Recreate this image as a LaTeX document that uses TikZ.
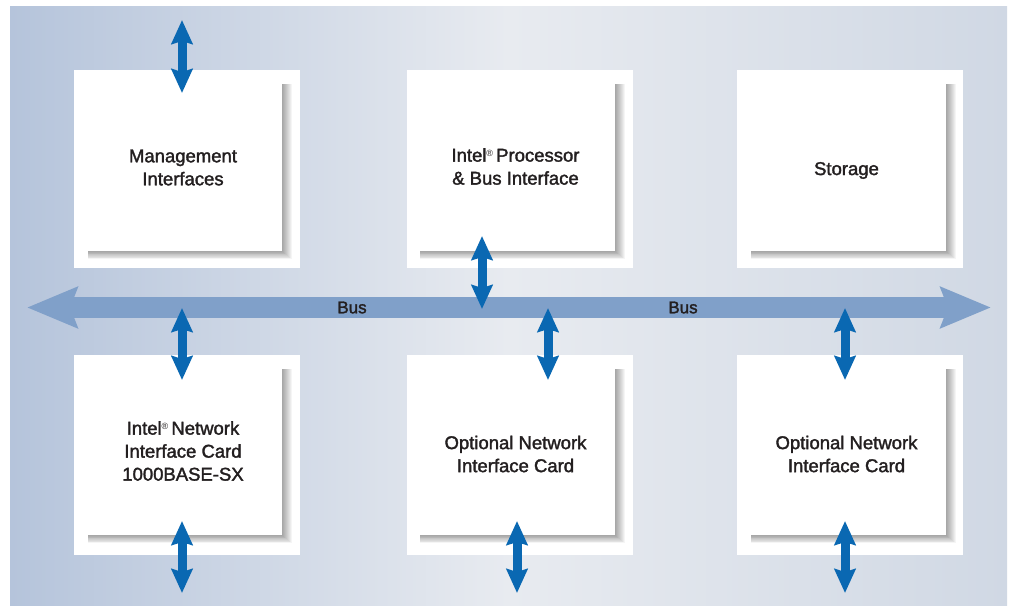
\documentclass[tikz,border=0pt]{standalone}
\usepackage{fontspec}
\setmainfont{Liberation Sans}
\newfontfamily\medfont{Liberation Sans}[FakeBold=1.8]
\usepackage{tikz}
\usetikzlibrary{arrows.meta}

\definecolor{linkblue}{RGB}{10,104,178}
\definecolor{busblue}{RGB}{128,160,201}
\definecolor{bgleft}{RGB}{181,196,219}
\definecolor{bgmid}{RGB}{232,235,240}
\definecolor{bgright}{RGB}{208,216,228}
\definecolor{txt}{RGB}{35,31,32}

\newcommand{\regmark}{\raisebox{5.5pt}{\rmfamily\fontsize{9}{9}\selectfont ®}}

\pgfdeclarelayer{back}
\pgfdeclarelayer{shade}
\pgfsetlayers{back,shade,main}

\begin{document}
\begin{tikzpicture}[x=1pt, y=-1pt,
    every node/.style={font=\medfont\fontsize{18.5}{23}\selectfont, text=txt},
    frame/.style={fill=white, minimum width=226pt, minimum height=198pt, inner sep=0pt},
    card/.style={fill=white, minimum width=198pt, minimum height=171pt, inner sep=0pt},
    label/.style={align=center},
    link/.style={line width=9pt, linkblue, {Stealth[width=21pt,length=24pt,inset=3pt]}-{Stealth[width=21pt,length=24pt,inset=3pt]}},
    bus/.style={line width=21pt, busblue, {Stealth[width=40pt,length=50pt,inset=7pt]}-{Stealth[width=40pt,length=50pt,inset=7pt]}}]
    % Background
    \begin{pgfonlayer}{back}
    \useasboundingbox (0,0) rectangle (1009,605);
    \fill[white] (0,0) rectangle (1009,605);
    \shade[left color=bgleft, right color=bgright, middle color=bgmid] (10,6) rectangle (1007,605);
    % Frames
    \node[frame] (f1) at (187,169) {};
    \node[frame] (f2) at (520,169) {};
    \node[frame] (f3) at (850,169) {};
    \node[frame, minimum height=200pt] (f4) at (187,455) {};
    \node[frame, minimum height=200pt] (f5) at (520,455) {};
    \node[frame, minimum height=200pt] (f6) at (850,455) {};
    \end{pgfonlayer}
    % Cards
    \node[card] (mgmtbox) at (183,165.5) {};
    \node[card] (cpubox) at (515.5,165.5) {};
    \node[card] (storbox) at (846.5,165.5) {};
    \node[card, minimum height=170pt] (nicbox) at (183,450) {};
    \node[card, minimum height=170pt] (opt1box) at (515.5,450) {};
    \node[card, minimum height=170pt] (opt2box) at (846.5,450) {};
    % Soft shadows
    \begin{pgfonlayer}{shade}
    \foreach \c in {mgmtbox,cpubox,storbox,nicbox,opt1box,opt2box}
      \foreach \r in {1,...,10}
        \fill[black, opacity=.04] ([xshift=4pt,yshift=-4pt]\c.north west) rectangle ([xshift=\r pt,yshift=-0.8*\r pt]\c.south east);
    \end{pgfonlayer}
    \node[label] (mgmt) at ([yshift=-2pt]mgmtbox.center) {Management\\Interfaces};
    \node[label] (cpu) at ([yshift=-1pt]cpubox.center) {Intel\regmark\,Processor\\\& Bus Interface};
    \node[label] (stor) at ([yshift=-5pt]storbox.center) {Storage};
    \node[label] (nic) at ([yshift=-1pt]nicbox.center) {Intel\regmark\,Network\\Interface Card\\1000BASE-SX};
    \node[label] (opt1) at ([yshift=-4pt]opt1box.center) {Optional Network\\Interface Card};
    \node[label] (opt2) at ([yshift=-4pt]opt2box.center) {Optional Network\\Interface Card};
    % Bus
    \coordinate (busL) at (27,307.5);
    \coordinate (busR) at (991,307.5);
    \draw[bus] (busL) -- (busR);
    \node (bus1) at (352,307.5) {\fontsize{17}{17}\selectfont Bus};
    \node (bus2) at (683,307.5) {\fontsize{17}{17}\selectfont Bus};
    % Links
    \coordinate (mgmtup) at (182,20);
    \coordinate (mgmtin) at (182,93);
    \coordinate (cpuin) at (482,236);
    \coordinate (cpubus) at (482,309);
    \coordinate (nicbus) at (182,308);
    \coordinate (nicin) at (182,380);
    \coordinate (opt1bus) at (548,308);
    \coordinate (opt1in) at (548,380);
    \coordinate (opt2bus) at (845,308);
    \coordinate (opt2in) at (845,380);
    \coordinate (nicout) at (182,521);
    \coordinate (nicdn) at (182,593);
    \coordinate (opt1out) at (517,521);
    \coordinate (opt1dn) at (517,593);
    \coordinate (opt2out) at (845,521);
    \coordinate (opt2dn) at (845,593);
    \draw[link] (mgmtup) -- (mgmtin);
    \draw[link] (cpuin) -- (cpubus);
    \draw[link] (nicbus) -- (nicin);
    \draw[link] (opt1bus) -- (opt1in);
    \draw[link] (opt2bus) -- (opt2in);
    \draw[link] (nicout) -- (nicdn);
    \draw[link] (opt1out) -- (opt1dn);
    \draw[link] (opt2out) -- (opt2dn);
\end{tikzpicture}
\end{document}
